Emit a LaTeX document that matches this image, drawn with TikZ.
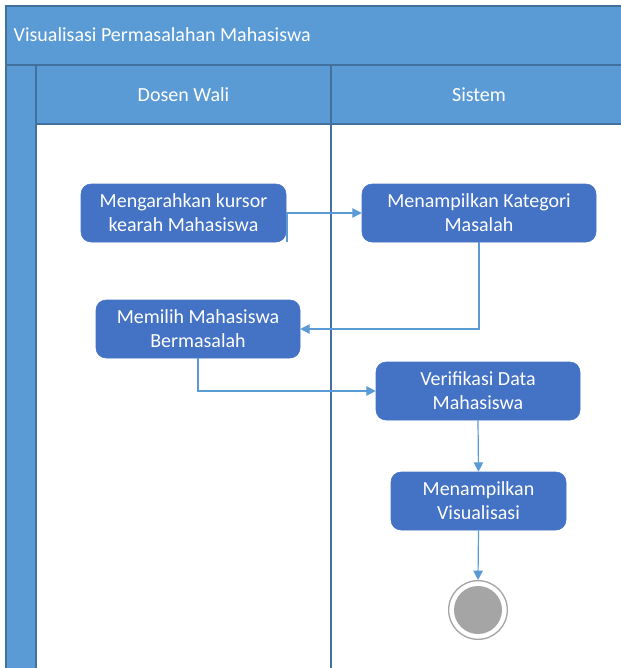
\documentclass[tikz,border=0pt]{standalone}
\usepackage{fontspec}
\setmainfont{Carlito}
\usetikzlibrary{arrows.meta}
\definecolor{kepala}{HTML}{5B9BD5}
\definecolor{garis}{HTML}{41719C}
\definecolor{aktif}{HTML}{4472C4}
\definecolor{panah}{HTML}{5B9BD5}
\definecolor{abu}{HTML}{A5A5A5}

\begin{document}
\begin{tikzpicture}[x=0.75pt, y=-0.75pt,
    aktivitas/.style={fill=aktif, draw=aktif, rounded corners=7.5pt, text=white,
      align=center, inner sep=0pt, font=\fontsize{15}{18}\selectfont},
    alur/.style={draw=panah, line width=0.9pt, -{Triangle[length=7pt, width=7pt]}},
    judul/.style={text=white, font=\fontsize{15}{18}\selectfont}]
    \useasboundingbox (0,0) rectangle (621,668);
    % Kerangka
    \fill[white] (0,0) rectangle (621,668);
    \draw[fill=kepala, draw=garis, line width=1pt] (6,6) rectangle (640,65);
    \draw[fill=kepala, draw=garis, line width=1pt] (6,65) rectangle (36,690);
    \draw[fill=kepala, draw=garis, line width=1pt] (36,65) rectangle (640,124);
    \draw[draw=garis, line width=1pt] (36,124) -- (36,690);
    \draw[draw=garis, line width=1pt] (331,65) -- (331,690);
    % Judul
    \node[judul, anchor=west] (pool) at (9,35) {Visualisasi Permasalahan Mahasiswa};
    \node[judul] (dosen) at (183.5,95) {Dosen Wali};
    \node[judul] (sistem) at (479,95) {Sistem};
    % Aktivitas
    \node[aktivitas, minimum width=153.75pt, minimum height=43.5pt] (arah) at (183.5,213) {Mengarahkan kursor\\kearah Mahasiswa};
    \node[aktivitas, minimum width=175.5pt, minimum height=43.5pt] (kategori) at (479,213) {Menampilkan Kategori\\Masalah};
    \node[aktivitas, minimum width=153pt, minimum height=43.5pt] (pilih) at (198,329) {Memilih Mahasiswa\\Bermasalah};
    \node[aktivitas, minimum width=153pt, minimum height=43.5pt] (verif) at (478,391) {Verifikasi Data\\Mahasiswa};
    \node[aktivitas, minimum width=131.25pt, minimum height=43.5pt] (visual) at (478.5,501) {Menampilkan\\Visualisasi};
    % Akhir
    \node[circle, draw=abu, line width=1pt, minimum size=44pt, inner sep=0pt] (akhir) at (478,610) {};
    \node[circle, fill=abu, minimum size=36pt, inner sep=0pt] (akhirdalam) at (akhir) {};
    % Alur
    \coordinate (lepas) at (287,242);
    \draw[alur] (lepas) |- (kategori.west);
    \draw[alur] (kategori.south) |- (pilih.east);
    \draw[alur] (pilih.south) |- (verif.west);
    \draw[alur] (verif.south) -- (visual.north);
    \draw[alur] (visual.south) -- (akhir.north);
\end{tikzpicture}
\end{document}
